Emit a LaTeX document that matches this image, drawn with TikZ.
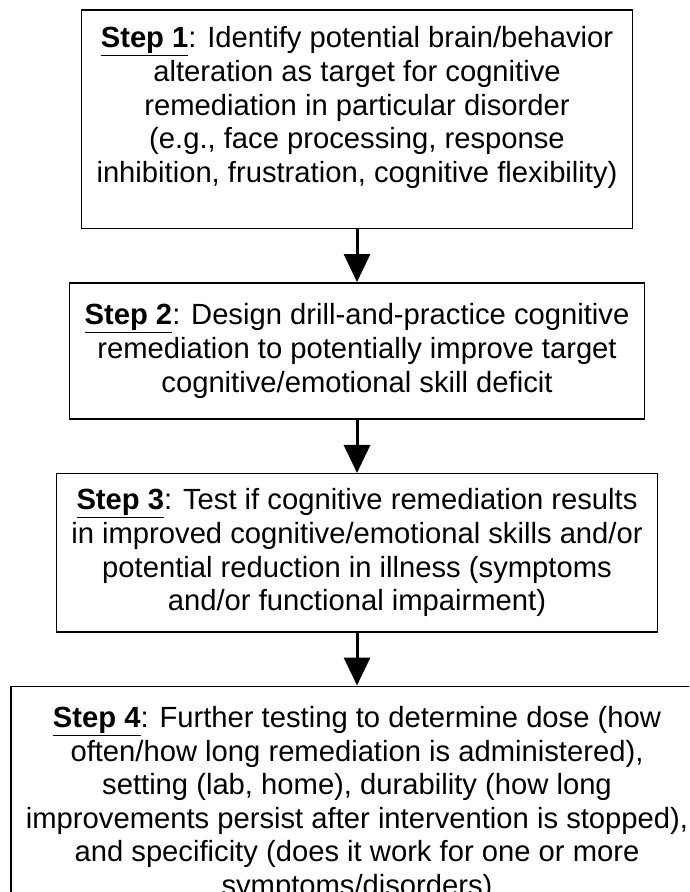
\documentclass[tikz,border=0pt]{standalone}
\usepackage{fontspec}
\setmainfont{Liberation Sans}
\usepackage{tikz}
\usetikzlibrary{positioning,arrows.meta}

\newcommand{\stepname}[1]{\underline{\textbf{Step #1}}}

\begin{document}
\begin{tikzpicture}[x=1pt,y=1pt,node distance=53pt,
  stepbox/.style={draw,line width=1.5pt,align=center,inner xsep=15pt,inner ysep=17pt,
    font=\fontsize{29.2}{33.6}\selectfont},
  flow/.style={-{Triangle[length=28pt,width=26pt]},line width=3pt}]
\useasboundingbox (0,0) rectangle (689,-892);
\clip (0,0) rectangle (689,-892);

% the four steps, top to bottom
\node[stepbox,anchor=north,text depth=29pt] (step1) at (357,-9)
  {\stepname{1}: Identify potential brain/behavior\\
   alteration as target for cognitive\\
   remediation in particular disorder\\
   (e.g., face processing, response\\
   inhibition, frustration, cognitive flexibility)};
\node[stepbox,inner ysep=21pt,below=of step1] (step2)
  {\stepname{2}: Design drill-and-practice cognitive\\
   remediation to potentially improve target\\
   cognitive/emotional skill deficit};
\node[stepbox,inner ysep=15pt,below=of step2] (step3)
  {\stepname{3}: Test if cognitive remediation results\\
   in improved cognitive/emotional skills and/or\\
   potential reduction in illness (symptoms\\
   and/or functional impairment)};
\node[stepbox,inner ysep=20pt,below=of step3] (step4)
  {\stepname{4}: Further testing to determine dose (how\\
   often/how long remediation is administered),\\
   setting (lab, home), durability (how long\\
   improvements persist after intervention is stopped),\\
   and specificity (does it work for one or more\\
   symptoms/disorders)};

\draw[flow] (step1) -- (step2);
\draw[flow] (step2) -- (step3);
\draw[flow] (step3) -- (step4);
\end{tikzpicture}
\end{document}
